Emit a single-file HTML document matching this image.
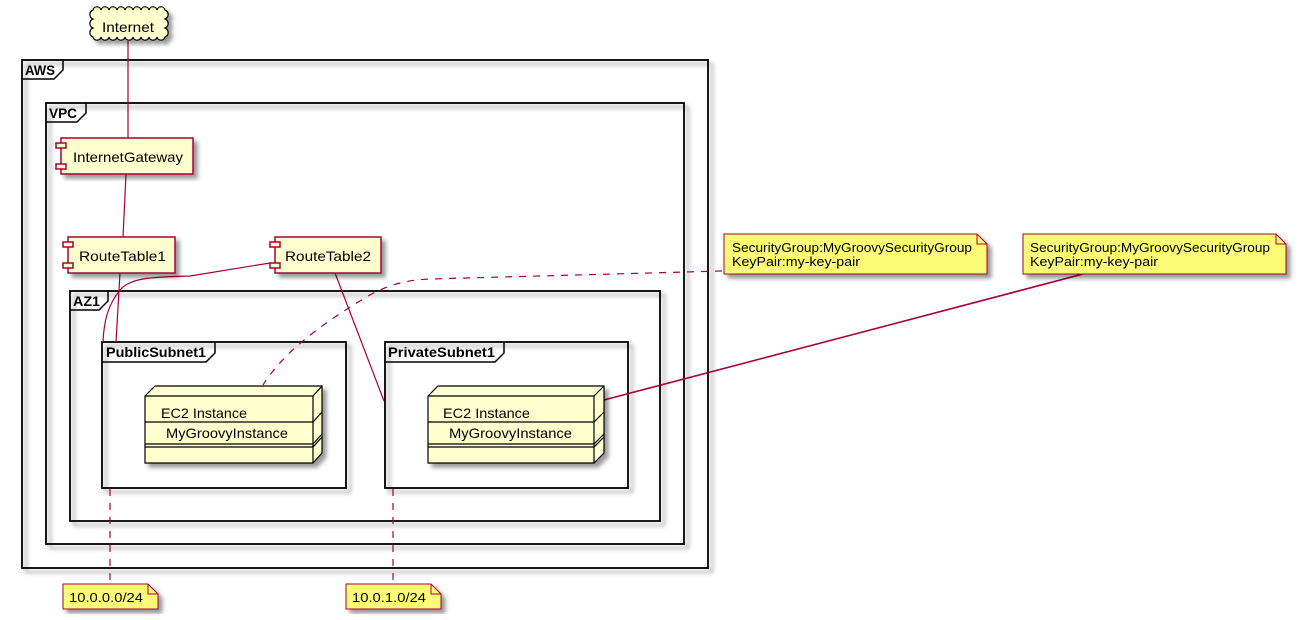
<!DOCTYPE html>
<html>
<head>
<meta charset="utf-8">
<style>
  html, body { margin: 0; padding: 0; background: #ffffff; }
  svg { display: block; }
  text { font-family: "Liberation Sans", "DejaVu Sans", sans-serif; }
</style>
</head>
<body>
<svg width="1306" height="620" viewBox="0 0 1306 620" xmlns="http://www.w3.org/2000/svg">
  <defs>
    <filter id="sh" x="-10%" y="-10%" width="130%" height="130%">
      <feGaussianBlur stdDeviation="2" in="SourceAlpha" result="b"/>
      <feColorMatrix type="matrix" in="b" values="0 0 0 0 0  0 0 0 0 0  0 0 0 0 0  0 0 0 0.4 0" result="b2"/>
      <feOffset dx="4" dy="4" in="b2" result="b3"/>
      <feBlend in="SourceGraphic" in2="b3" mode="normal"/>
    </filter>
  </defs>
  <rect width="1306" height="620" fill="#ffffff"/>

  <!-- Frames -->
  <g fill="none" stroke="#000" stroke-width="1.8" filter="url(#sh)">
    <rect x="22" y="60" width="686" height="508"/>
    <rect x="46" y="103" width="638" height="441"/>
    <rect x="70" y="291" width="590" height="230"/>
    <rect x="102" y="342" width="244" height="146"/>
    <rect x="385" y="342" width="243" height="146"/>
  </g>
  <g fill="none" stroke="#000" stroke-width="1.5">
    <path d="M22,79 L54,79 L63,70 L63,60"/>
    <path d="M46,122 L77,122 L86,113 L86,103"/>
    <path d="M70,310 L99,310 L108,301 L108,291"/>
    <path d="M102,362 L206,362 L215,353 L215,342"/>
    <path d="M385,362 L495,362 L504,353 L504,342"/>
  </g>
  <g font-weight="bold" font-size="14" fill="#000">
    <text x="25" y="75" textLength="30" lengthAdjust="spacingAndGlyphs">AWS</text>
    <text x="49" y="118" textLength="28" lengthAdjust="spacingAndGlyphs">VPC</text>
    <text x="73" y="306" textLength="27" lengthAdjust="spacingAndGlyphs">AZ1</text>
    <text x="106" y="357" textLength="100" lengthAdjust="spacingAndGlyphs">PublicSubnet1</text>
    <text x="388" y="357" textLength="107" lengthAdjust="spacingAndGlyphs">PrivateSubnet1</text>
  </g>

  <!-- Connectors -->
  <g fill="none" stroke="#A80036" stroke-width="1.2">
    <line x1="128" y1="41" x2="128" y2="138"/>
    <line x1="126" y1="174" x2="123" y2="237"/>
    <line x1="120" y1="273" x2="116" y2="342"/>
    <path d="M270,263 L190,276 C150,277 130,278 120,290 C108,305 104,320 103,342"/>
    <line x1="335" y1="273" x2="384" y2="401"/>
    <line x1="1083" y1="274" x2="604" y2="400" stroke-width="1.6"/>
  </g>
  <g fill="none" stroke="#A80036" stroke-width="1.2" stroke-dasharray="7,7">
    <path d="M722,271 L430,279 C405,280 388,285 368,296 C325,322 285,350 263,385"/>
    <line x1="110" y1="489" x2="110" y2="584"/>
    <line x1="393" y1="489" x2="393" y2="584"/>
  </g>

  <!-- Internet cloud -->
  <g filter="url(#sh)">
    <path d="M93,10
      a4.1 4.1 0 0 1 8 0 a4.1 4.1 0 0 1 8 0 a4.1 4.1 0 0 1 8 0 a4.1 4.1 0 0 1 8 0 a4.1 4.1 0 0 1 8 0
      a4.1 4.1 0 0 1 8 0 a4.1 4.1 0 0 1 8 0 a4.1 4.1 0 0 1 8 0 a4.1 4.1 0 0 1 8 0
      a4.8 4.8 0 0 1 0 9 a4.8 4.8 0 0 1 0 9 a4.8 4.8 0 0 1 0 9
      a4.1 4.1 0 0 1 -8 0 a4.1 4.1 0 0 1 -8 0 a4.1 4.1 0 0 1 -8 0 a4.1 4.1 0 0 1 -8 0 a4.1 4.1 0 0 1 -8 0
      a4.1 4.1 0 0 1 -8 0 a4.1 4.1 0 0 1 -8 0 a4.1 4.1 0 0 1 -8 0 a4.1 4.1 0 0 1 -8 0
      a4.8 4.8 0 0 1 0 -9 a4.8 4.8 0 0 1 0 -9 a4.8 4.8 0 0 1 0 -9 Z"
      fill="#FEFECE" stroke="#000" stroke-width="1.2"/>
  </g>
  <text x="102" y="32" font-size="14" fill="#000" textLength="52" lengthAdjust="spacingAndGlyphs">Internet</text>

  <!-- Components -->
  <g fill="#FEFECE" stroke="#A80036" stroke-width="1.5">
    <rect x="61" y="138" width="132" height="36" filter="url(#sh)"/>
    <rect x="56" y="143" width="10" height="5"/>
    <rect x="56" y="164" width="10" height="5"/>

    <rect x="68" y="237" width="107" height="36" filter="url(#sh)"/>
    <rect x="63" y="242" width="10" height="5"/>
    <rect x="63" y="263" width="10" height="5"/>

    <rect x="275" y="237" width="106" height="36" filter="url(#sh)"/>
    <rect x="270" y="242" width="10" height="5"/>
    <rect x="270" y="263" width="10" height="5"/>
  </g>
  <g font-size="14" fill="#000">
    <text x="73" y="162" textLength="110" lengthAdjust="spacingAndGlyphs">InternetGateway</text>
    <text x="79" y="261" textLength="87" lengthAdjust="spacingAndGlyphs">RouteTable1</text>
    <text x="285" y="261" textLength="86" lengthAdjust="spacingAndGlyphs">RouteTable2</text>
  </g>

  <!-- EC2 nodes -->
  <g stroke="#000" stroke-width="1.2" fill="#FEFECE">
    <g filter="url(#sh)">
      <path d="M145,396 L155,386 L322,386 L322,453 L313,463 L145,463 Z"/>
    </g>
    <path d="M145,396 L313,396 L322,386 M313,396 L313,463" fill="none"/>
    <path d="M145,422 L313,422 L322,412 M145,444 L313,444 L322,434 M145,447 L313,447 L322,437" fill="none"/>

    <g filter="url(#sh)">
      <path d="M428,396 L438,386 L604,386 L604,453 L594,463 L428,463 Z"/>
    </g>
    <path d="M428,396 L594,396 L604,386 M594,396 L594,463" fill="none"/>
    <path d="M428,422 L594,422 L604,412 M428,444 L594,444 L604,434 M428,447 L594,447 L604,437" fill="none"/>
  </g>
  <g font-size="14" fill="#000">
    <text x="161" y="418" textLength="86" lengthAdjust="spacingAndGlyphs">EC2 Instance</text>
    <text x="166" y="438" textLength="122" lengthAdjust="spacingAndGlyphs">MyGroovyInstance</text>
    <text x="443" y="418" textLength="87" lengthAdjust="spacingAndGlyphs">EC2 Instance</text>
    <text x="449" y="438" textLength="123" lengthAdjust="spacingAndGlyphs">MyGroovyInstance</text>
  </g>

  <!-- Notes -->
  <g fill="#FBFB77" stroke="#A80036" stroke-width="1">
    <path d="M724,234 L977,234 L987,244 L987,274 L724,274 Z" filter="url(#sh)"/>
    <path d="M977,234 L977,244 L987,244" fill="none"/>

    <path d="M1023,234 L1276,234 L1286,244 L1286,274 L1023,274 Z" filter="url(#sh)"/>
    <path d="M1276,234 L1276,244 L1286,244" fill="none"/>

    <path d="M63,584 L148,584 L158,594 L158,609 L63,609 Z" filter="url(#sh)"/>
    <path d="M148,584 L148,594 L158,594" fill="none"/>

    <path d="M346,584 L431,584 L441,594 L441,609 L346,609 Z" filter="url(#sh)"/>
    <path d="M431,584 L431,594 L441,594" fill="none"/>
  </g>
  <g font-size="13" fill="#000">
    <text x="732" y="252" textLength="240" lengthAdjust="spacingAndGlyphs">SecurityGroup:MyGroovySecurityGroup</text>
    <text x="732" y="266" textLength="128" lengthAdjust="spacingAndGlyphs">KeyPair:my-key-pair</text>
    <text x="1030" y="252" textLength="240" lengthAdjust="spacingAndGlyphs">SecurityGroup:MyGroovySecurityGroup</text>
    <text x="1030" y="266" textLength="128" lengthAdjust="spacingAndGlyphs">KeyPair:my-key-pair</text>
    <text x="69" y="602" textLength="74" lengthAdjust="spacingAndGlyphs">10.0.0.0/24</text>
    <text x="352" y="602" textLength="74" lengthAdjust="spacingAndGlyphs">10.0.1.0/24</text>
  </g>
</svg>
</body>
</html>
